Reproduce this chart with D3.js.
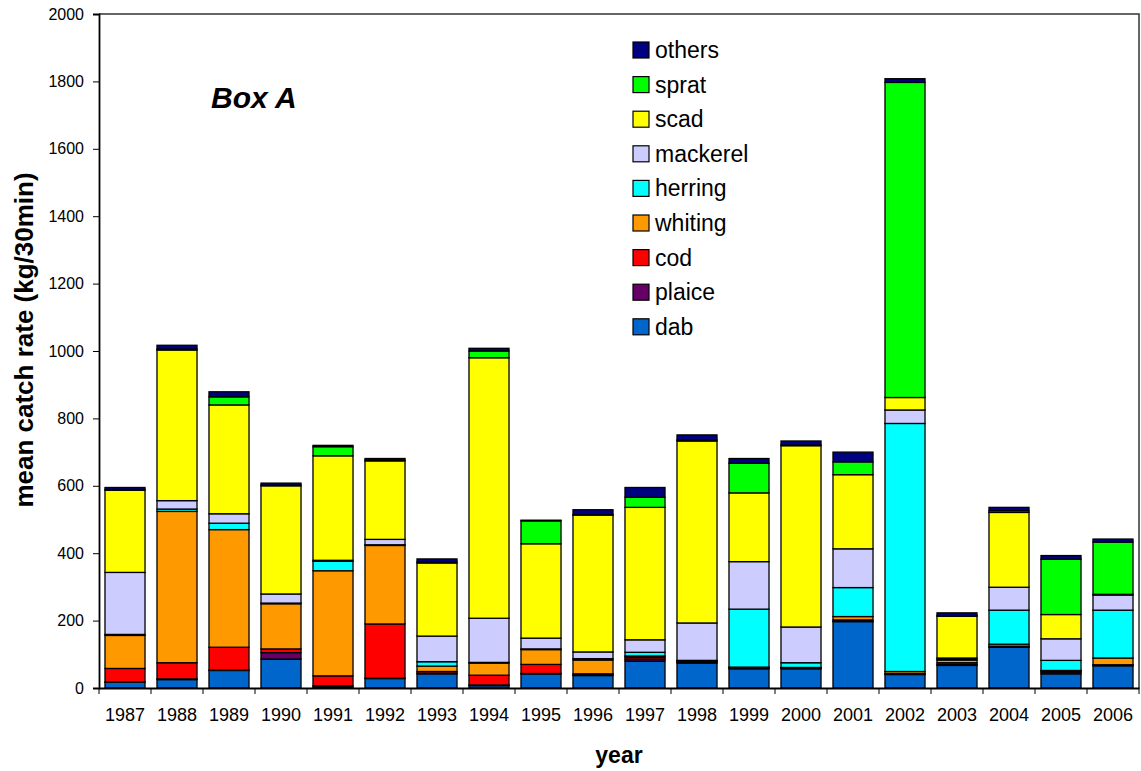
<!DOCTYPE html>
<html><head><meta charset="utf-8">
<script src="https://cdn.jsdelivr.net/npm/d3@7"></script>
<style>body{margin:0;background:#fff}svg{display:block}text{font-family:"Liberation Sans",Arial,sans-serif}</style>
</head><body><svg id="c" width="1141" height="771"></svg>
<script>
const years = ["1987","1988","1989","1990","1991","1992","1993","1994","1995","1996","1997","1998","1999","2000","2001","2002","2003","2004","2005","2006"];
const species = ["dab","plaice","cod","whiting","herring","mackerel","scad","sprat","others"];
const colors = ["#0066CC","#660066","#FF0000","#FF9900","#00FFFF","#CCCCFF","#FFFF00","#00FF00","#000080"];
const dab      = [17,25,52,86,3,28,42,7,42,37,80,74,57,57,197,40,67,121,42,66];
const plaice   = [1,2,1,19,4,1,2,2,1,2,6,3,2,2,1,1,3,1,5,1];
const cod      = [40,48,68,11,29,161,5,29,27,3,6,2,2,1,4,2,5,2,3,2];
const whiting  = [98,449,349,134,312,233,16,36,44,41,3,1,1,1,10,6,8,6,2,20];
const herring  = [3,7,19,2,28,2,13,2,2,4,11,2,172,14,86,736,3,101,30,142];
const mackerel = [184,25,28,27,3,16,76,131,32,20,37,111,141,106,115,40,3,68,64,45];
const scad     = [244,447,323,321,310,233,217,773,280,406,393,540,204,538,220,37,124,222,72,2];
const sprat    = [2,3,24,2,27,2,3,20,68,2,30,3,88,2,38,935,2,5,164,155];
const others   = [6,11,15,6,4,5,9,8,2,14,29,15,14,12,29,11,8,10,11,9];
const yTicks = [0,200,400,600,800,1000,1200,1400,1600,1800,2000];

const series = {dab,plaice,cod,whiting,herring,mackerel,scad,sprat,others};
const rows = years.map((y,i)=>{const r={year:y};species.forEach(s=>r[s]=series[s][i]);return r;});
const stack = d3.stack().keys(species)(rows);

const svg = d3.select("#c");
const L=99,R=1139,T=14,B=688;
const x = d3.scaleBand().domain(years).range([L,R]).paddingInner(0.23).paddingOuter(0.115);
const xt = d3.scaleBand().domain(years).range([L,R]);
const y = d3.scaleLinear().domain([0,2000]).range([B,T]);
const color = d3.scaleOrdinal().domain(species).range(colors);

// frame top/right
svg.append("path").attr("d",`M${L},${T}H${R}V${B}`).attr("fill","none").attr("stroke","#333").attr("stroke-width",1.5);

// bars
svg.append("g").selectAll("g").data(stack).join("g").attr("fill",d=>color(d.key))
 .selectAll("rect").data(d=>d).join("rect")
 .attr("x",d=>x(d.data.year)).attr("width",x.bandwidth())
 .attr("y",d=>y(d[1])).attr("height",d=>y(d[0])-y(d[1]))
 .attr("stroke","#000").attr("stroke-width",1.3);

// y axis
const ya = svg.append("g").attr("transform",`translate(${L},0)`)
 .call(d3.axisLeft(y).tickValues(yTicks).tickSize(6).tickPadding(9).tickFormat(d3.format("d")));
ya.select(".domain").attr("stroke","#000").attr("stroke-width",1.8);
ya.selectAll(".tick line").attr("stroke","#000");
ya.selectAll("text").attr("font-size",16).attr("fill","#000");

// x axis
const xa = svg.append("g").attr("transform",`translate(0,${B})`)
 .call(d3.axisBottom(xt).tickSize(0).tickPadding(20));
xa.select(".domain").attr("stroke","#000").attr("stroke-width",1.8);
xa.selectAll("text").attr("font-size",18).attr("fill","#000");
xa.selectAll(".bt").data(years.concat(["end"])).join("line")
 .attr("x1",(d,i)=>L+i*xt.step()).attr("x2",(d,i)=>L+i*xt.step())
 .attr("y1",0).attr("y2",6).attr("stroke","#000");

// titles
svg.append("text").attr("x",(L+R)/2).attr("y",763).attr("text-anchor","middle")
 .attr("font-size",23).attr("font-weight","bold").text("year");
svg.append("text").attr("transform","translate(33,340) rotate(-90)").attr("text-anchor","middle")
 .attr("font-size",26).attr("font-weight","bold").text("mean catch rate (kg/30min)");
svg.append("text").attr("x",211).attr("y",108).attr("font-size",30).attr("font-weight","bold")
 .attr("font-style","italic").text("Box A");

// legend
const leg = svg.append("g");
const legOrder = species.slice().reverse();
legOrder.forEach((s,i)=>{
  const cy = 50 + i*34.6;
  leg.append("rect").attr("x",633).attr("y",cy-8).attr("width",16).attr("height",16)
    .attr("fill",color(s)).attr("stroke","#000").attr("stroke-width",1.2);
  leg.append("text").attr("x",655).attr("y",cy+8).attr("font-size",23).text(s);
});
</script></body></html>
